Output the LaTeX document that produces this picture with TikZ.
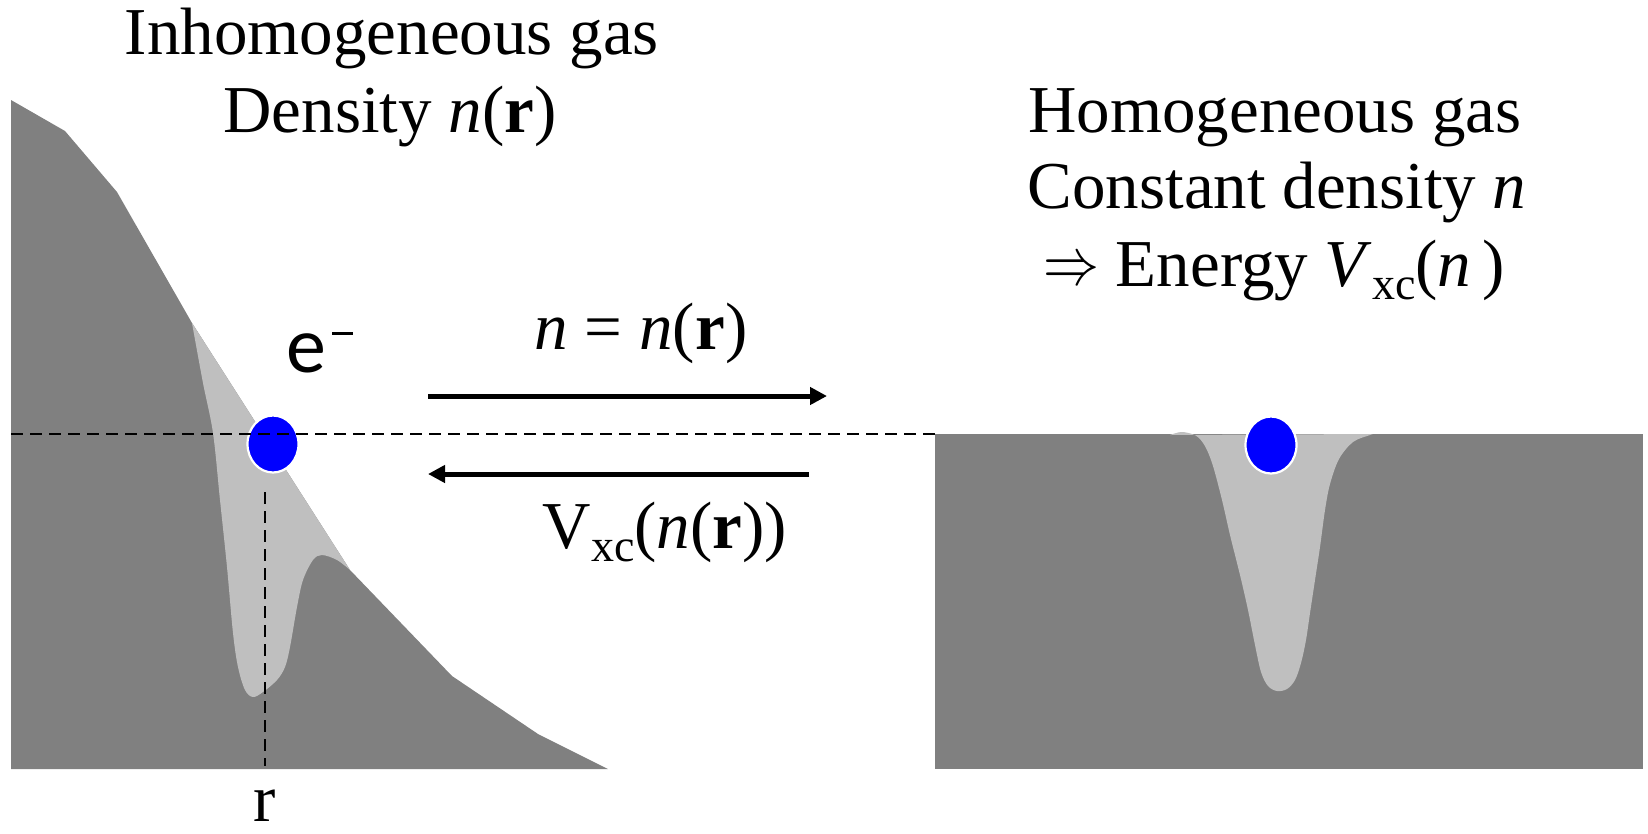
\documentclass[tikz,border=0pt]{standalone}
\usepackage{graphicx}
\usepackage{fontspec}
\setmainfont{Liberation Serif}
\newfontfamily\calfont{Carlito}
\usetikzlibrary{arrows.meta,shapes.geometric}
\definecolor{darkgas}{gray}{0.5}
\definecolor{lightgas}{gray}{0.75}
\newcommand\subxc{\raisebox{-0.2em}{\fontsize{46}{46}\selectfont xc}}
\newcommand\impl{\raisebox{2pt}{\scalebox{2.25}[2.7]{\fontsize{24}{24}\selectfont$\Rightarrow$}}}
\tikzset{
  txt/.style={anchor=base, inner sep=0pt, font=\fontsize{67}{76}\selectfont},
  guide/.style={draw=black, line width=2.5pt, dash pattern=on 12pt off 7pt},
  flow/.style={line width=5pt, -{Triangle[length=17pt,width=17pt]}},
  electron/.style={ellipse, fill=blue, draw=white, line width=2.2pt,
    minimum width=51pt, minimum height=57pt, inner sep=0pt}
}
\begin{document}
\begin{tikzpicture}[x=1pt,y=-1pt]
\useasboundingbox (0,0) rectangle (1648,833);
% left: inhomogeneous density profile
\fill[darkgas] (11,100) -- (65,131) -- (117,192) -- (192,323) -- (350,570)
  -- (452,676) -- (538,734) -- (608,769) -- (11,769) -- cycle;
\fill[lightgas] plot[smooth, tension=0.55] coordinates {(192,323) (203,383) (213,433)
  (220,500) (227,567) (233,633) (238,667) (245,690) (253,697) (263,692) (277,680)
  (285,667) (290,647) (297,607) (303,580) (313,560) (322,555) (337,560) (350,570)} -- cycle;
% right: homogeneous gas
\fill[darkgas] (935,434) rectangle (1643,769);
\fill[lightgas] plot[smooth, tension=0.55] coordinates {(1170,435) (1181,432) (1192,434)
  (1199,438) (1206,448) (1213,466) (1222,500) (1230,535) (1240,575) (1248,610)
  (1255,645) (1261,672) (1268,686) (1277,691) (1287,689) (1295,680) (1301,663)
  (1306,640) (1310,613) (1315,580) (1320,547) (1325,510) (1330,484) (1339,459)
  (1353,442) (1370,435) (1373,434)} -- cycle;
% electrons
\node[electron] (eL) at (273,444) {};
\node[electron] (eR) at (1271,445) {};
% guide lines
\coordinate (hl) at (11,434);
\coordinate (hr) at (935,434);
\draw[guide] (hl) -- (hr);
\coordinate (vt) at (265,492);
\coordinate (vb) at (265,766);
\draw[guide] (vt) -- (vb);
% arrows
\coordinate (a1s) at (428,396);
\coordinate (a1e) at (827,396);
\draw[flow] (a1s) -- (a1e);
\coordinate (a2s) at (809,474);
\coordinate (a2e) at (428,474);
\draw[flow] (a2s) -- (a2e);
% texts
\node[txt] (t1a) at (392,54) {Inhomogeneous gas};
\node[txt] (t1b) at (390,132) {Density \textit{n}(\textbf{r})};
\node[txt] (t2a) at (1275,132) {Homogeneous gas};
\node[txt] (t2b) at (1277,208) {Constant density \textit{n}};
\node[txt] (t2c) at (1274,286) {\impl\ Energy \textit{V}\subxc(\textit{n}\,)};
\node[txt] (lab1) at (641,349) {\textit{n} = \textit{n}(\textbf{r})};
\node[txt] (lab2) at (665,548) {V\subxc(\textit{n}(\textbf{r}))};
\node[txt] (rlab) at (265,821) {r};
\node[anchor=base, inner sep=0pt, font=\calfont\fontsize{80}{80}\selectfont] (elab) at (320,372)
  {e\hspace{6pt}\rule[37pt]{21pt}{3.5pt}};
\end{tikzpicture}
\end{document}
